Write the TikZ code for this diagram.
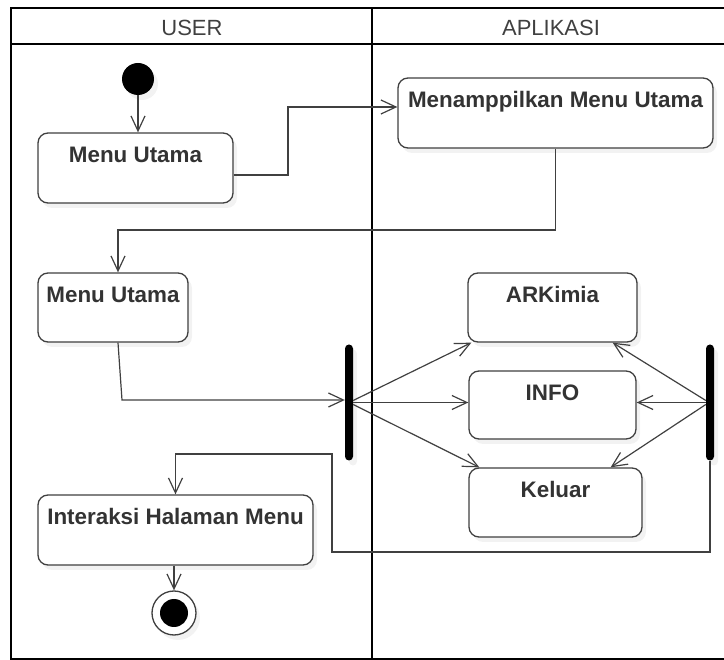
\documentclass[tikz,border=0pt]{standalone}
\usepackage{fontspec}
\setmainfont{Liberation Sans}
\usetikzlibrary{arrows.meta,calc,shadows}

\tikzset{
  lane/.style={draw=black, line width=2pt},
  lanetitle/.style={anchor=base, text=black!75, font=\fontsize{22}{26}\selectfont},
  boxtext/.style={anchor=base, yshift=-30pt, inner sep=0pt, text=black!80,
    font=\fontsize{22.4}{26}\selectfont\bfseries},
  act/.style={draw=black!75, line width=1.3pt, rounded corners=10pt, fill=white,
    inner sep=0pt, drop shadow={shadow xshift=4pt, shadow yshift=-5pt, opacity=0.1}},
  bar/.style={fill=black, rounded corners=4pt, minimum width=8pt, minimum height=116pt,
    inner sep=0pt, drop shadow={shadow xshift=4pt, shadow yshift=-5pt, opacity=0.1}},
  startnode/.style={circle, fill=black, minimum size=32pt, inner sep=0pt,
    drop shadow={shadow xshift=4pt, shadow yshift=-5pt, opacity=0.1}},
  endnode/.style={circle, draw=black!75, line width=1.3pt, fill=white, minimum size=44pt,
    inner sep=0pt, drop shadow={shadow xshift=4pt, shadow yshift=-5pt, opacity=0.1},
    path picture={\fill[black] (path picture bounding box.center) circle (14pt);}},
  flow/.style={draw=black!75, line width=1.2pt,
    -{Straight Barb[length=15pt,width=14pt,line width=1.2pt]}}
}

\begin{document}
\begin{tikzpicture}[x=1pt,y=-1pt]
\useasboundingbox (0,0) rectangle (724,660);

% swimlanes
\draw[lane] (11,8) rectangle (760,659);
\draw[lane] (11,44) -- (760,44);
\draw[lane] (372,8) -- (372,659);
\node[lanetitle] (tuser) at (192,35.5) {USER};
\node[lanetitle] (tapp) at (551,35.5) {APLIKASI};

% activities
\node[startnode] (init) at (138,79) {};
\node[act, minimum width=195pt, minimum height=70pt, label={[boxtext]north:Menu Utama}]
  (mu1) at (135.5,168) {};
\node[act, minimum width=315pt, minimum height=70pt, label={[boxtext]north:Menamppilkan Menu Utama}]
  (mp) at (555.5,113) {};
\node[act, minimum width=150pt, minimum height=69pt, label={[boxtext]north:Menu Utama}]
  (mu2) at (113,307.5) {};
\node[act, minimum width=169pt, minimum height=69pt, label={[boxtext]north:ARKimia}]
  (ark) at (552.5,307.5) {};
\node[act, minimum width=167pt, minimum height=68pt, label={[boxtext]north:INFO}]
  (info) at (552.5,405) {};
\node[act, minimum width=173pt, minimum height=69pt, label={[boxtext]north:Keluar}]
  (kel) at (555.5,502.5) {};
\node[act, minimum width=275pt, minimum height=70pt, label={[boxtext]north:Interaksi Halaman Menu}]
  (ia) at (175.5,530) {};
\node[endnode] (fin) at (174,613) {};

% fork bars
\node[bar] (fork1) at (349,402.5) {};
\node[bar] (fork2) at (710,402.5) {};

% bend points
\coordinate (c1) at (288,107);
\coordinate (c2) at (118,230);
\coordinate (c3) at (122,400);
\coordinate (c4) at (332,552);
\coordinate (c5) at (175.5,454);

% flows
\draw[flow] (init) -- (init.south |- mu1.north);
\draw[flow] ($(mu1.east)+(0,7)$) -| (c1) -- (c1 -| mp.west);
\draw[flow] (mp.south) |- (c2) -- (c2 |- mu2.north);
\draw[flow] ($(mu2.south)+(5,0)$) -- (c3) -- (c3 -| fork1.west);

\draw[flow] ($(fork1.east)+(0,-2)$) -- ($(ark.south west)+(4,0)$);
\draw[flow] (fork1.east) -- (fork1.east -| info.west);
\draw[flow] ($(fork1.east)+(0,2)$) -- ($(kel.north west)+(11,0)$);

\draw[flow] ($(fork2.west)+(0,-2)$) -- ($(ark.south east)+(-25,0)$);
\draw[flow] (fork2.west) -- (fork2.west -| info.east);
\draw[flow] ($(fork2.west)+(0,2)$) -- ($(kel.north east)+(-32,0)$);

\draw[flow] (fork2.south) |- (c4) |- (c5) -- (ia.north);
\draw[flow] (ia.south -| fin) -- (fin.north);
\end{tikzpicture}
\end{document}
